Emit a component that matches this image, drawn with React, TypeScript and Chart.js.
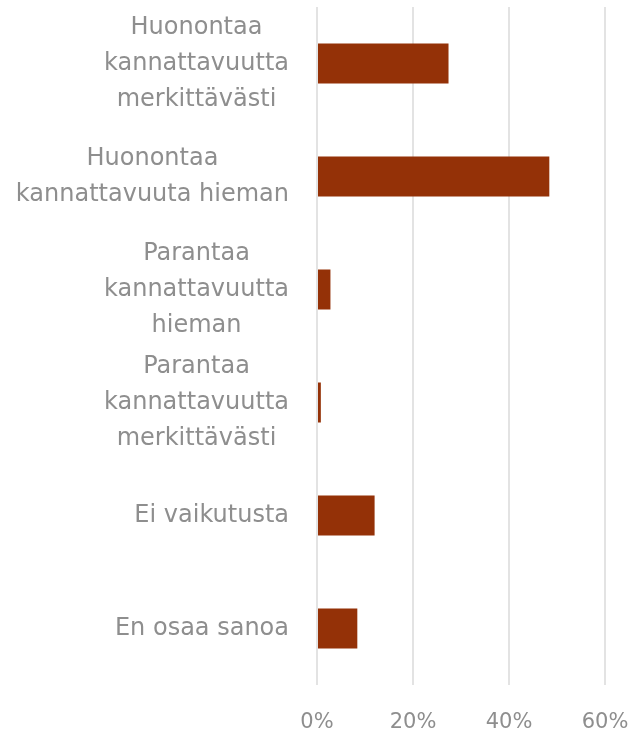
import React, { useEffect, useRef } from "react";
import { Chart, registerables } from "chart.js";

Chart.register(...registerables);

const categories: string[][] = [
  ["Huonontaa", "kannattavuutta", "merkittävästi"],
  ["Huonontaa", "kannattavuuta hieman"],
  ["Parantaa", "kannattavuutta", "hieman"],
  ["Parantaa", "kannattavuutta", "merkittävästi"],
  ["Ei vaikutusta"],
  ["En osaa sanoa"],
];
const values: number[] = [27.4, 48.4, 2.8, 0.8, 12.0, 8.4];
const xTicks: number[] = [0, 20, 40, 60];

const FONT = "'DejaVu Sans', sans-serif";
const FS = 24;
const TICK_FS = 21;
const LH = 36;
const TEXT = "#8e8e8e";
const LABEL_PAD = 28;
const Y_AXIS_WIDTH = 317;
const X_AXIS_HEIGHT = 51;
const X_PAD_RIGHT = 25;

const blockLabels = {
  id: "blockLabels",
  afterDraw(chart: any) {
    const y = chart.scales.y;
    const ctx = chart.ctx;
    ctx.save();
    ctx.font = `${FS}px ${FONT}`;
    ctx.fillStyle = TEXT;
    ctx.textAlign = "center";
    ctx.textBaseline = "middle";
    const right = y.right - LABEL_PAD;
    categories.forEach((lines, i) => {
      const w = Math.max(...lines.map((l) => ctx.measureText(l).width));
      const cx = right - w / 2;
      const cy = y.getPixelForValue(i);
      lines.forEach((l, j) => {
        ctx.fillText(l, cx, cy + (j - (lines.length - 1) / 2) * LH);
      });
    });
    ctx.restore();
  },
};

export default function App() {
  const ref = useRef<HTMLCanvasElement | null>(null);
  useEffect(() => {
    if (!ref.current) return;
    const chart = new Chart(ref.current, {
      type: "bar",
      data: {
        labels: categories,
        datasets: [
          {
            data: values,
            backgroundColor: "#943107",
            borderWidth: 0,
            categoryPercentage: 1,
            barPercentage: 0.354,
          },
        ],
      },
      options: {
        indexAxis: "y",
        animation: false,
        responsive: false,
        layout: { padding: { top: 7, right: 2, bottom: 0, left: 0 } },
        plugins: { legend: { display: false }, tooltip: { enabled: false } },
        scales: {
          x: {
            min: 0,
            max: 60,
            afterBuildTicks: (s: any) => {
              s.ticks = xTicks.map((v) => ({ value: v }));
            },
            afterFit: (s: any) => {
              s.height = X_AXIS_HEIGHT;
              s.paddingRight = X_PAD_RIGHT;
            },
            grid: { color: "#e3e3e3", lineWidth: 2, drawTicks: false },
            border: { display: false },
            ticks: {
              padding: 25,
              maxRotation: 0,
              color: TEXT,
              font: { family: FONT, size: TICK_FS },
              callback: (v: any) => `${v}%`,
            },
          },
          y: {
            grid: { display: false, drawTicks: false },
            border: { display: false },
            ticks: { display: false },
            afterFit: (s: any) => {
              s.width = Y_AXIS_WIDTH;
            },
          },
        },
      },
      plugins: [blockLabels],
    });
    return () => chart.destroy();
  }, []);
  return (
    <div style={{ position: "absolute", left: 0, top: 0, width: 630, height: 736, background: "#fff" }}>
      <canvas ref={ref} width={630} height={736} style={{ display: "block" }} />
    </div>
  );
}
